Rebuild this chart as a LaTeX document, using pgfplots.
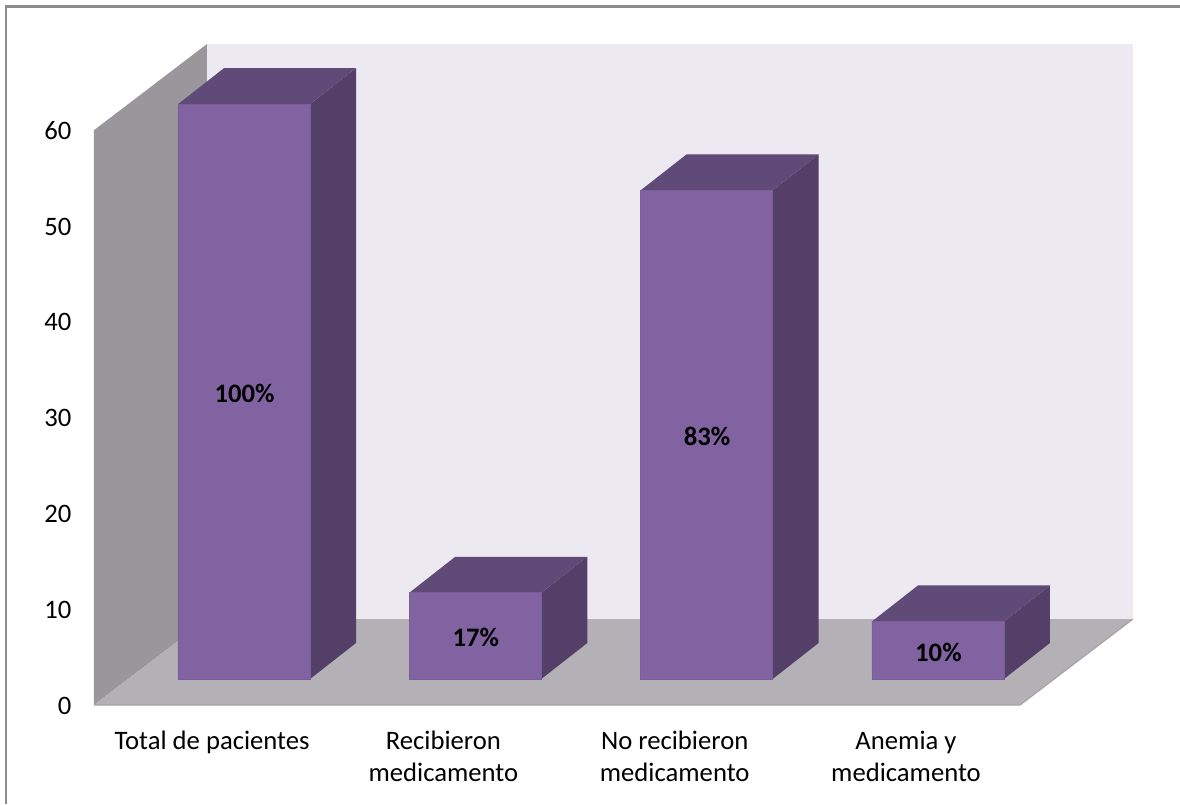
\documentclass[border=0pt]{standalone}
\usepackage{pgfplots}
\pgfplotsset{compat=1.18}
\usepackage{fontspec}
\setmainfont{Carlito}
\definecolor{backwall}{HTML}{ECEAF0}
\definecolor{sidewall}{HTML}{99979B}
\definecolor{floorc}{HTML}{B3B1B6}
\definecolor{floorl}{HTML}{A5A3A8}
\definecolor{front}{HTML}{8163A2}
\definecolor{frontl}{HTML}{7A5D9B}
\definecolor{topc}{HTML}{5F4A78}
\definecolor{sidec}{HTML}{533F68}
\definecolor{framec}{HTML}{8C8C8C}
\begin{document}
\begin{tikzpicture}
\path[use as bounding box] (-70.5pt,-74.25pt) rectangle (814.5pt,528.75pt);
\draw[framec,line width=1.6pt] (-66pt,-74.25pt) -- (-66pt,523.9pt) -- (814.5pt,523.9pt);
\begin{axis}[
  at={(0pt,0pt)},anchor=south west,
  scale only axis,width=779.25pt,height=495.75pt,
  xmin=-0.6485,xmax=3.8435,ymin=-2.714,ymax=66.28,
  axis line style={draw=none},major tick length=0pt,
  xtick={-0.138,0.862,1.862,2.862},
  xticklabels={\strut Total de pacientes,\strut Recibieron\\\strut medicamento,\strut No recibieron\\\strut medicamento,\strut Anemia y\\\strut medicamento},
  xticklabel style={align=center,anchor=north,yshift=-12.5pt,font=\fontsize{20}{24.5}\selectfont},
  ytick={-2.714,7.286,17.286,27.286,37.286,47.286,57.286},
  yticklabels={0,10,20,30,40,50,60},
  yticklabel style={anchor=east,xshift=-13.5pt,yshift=-0.4pt,font=\fontsize{20}{24}\selectfont},
  clip=false,
]
% walls and floor
\addplot[fill=backwall,draw=none] coordinates {(-0.16,6.263) (3.8435,6.263) (3.8435,66.28) (-0.16,66.28)} -- cycle;
\addplot[fill=sidewall,draw=none] coordinates {(-0.6485,-2.714) (-0.16,6.263) (-0.16,66.28) (-0.6485,57.286)} -- cycle;
\addplot[fill=floorc,draw=none] coordinates {(-0.6485,-2.714) (-0.16,6.263) (3.8435,6.263) (3.355,-2.714)} -- cycle;
\addplot[draw=floorl,line width=0.9pt] coordinates {(-0.6485,-2.714) (3.355,-2.714) (3.8435,6.263)};
% side faces
\addplot[fill=sidec,draw=none] coordinates {(0.2854,0) (0.4843,3.76) (0.4843,63.76) (0.2854,60)} -- cycle;
\addplot[fill=sidec,draw=none] coordinates {(1.2854,0) (1.4843,3.76) (1.4843,12.76) (1.2854,9)} -- cycle;
\addplot[fill=sidec,draw=none] coordinates {(2.2854,0) (2.4843,3.76) (2.4843,54.76) (2.2854,51)} -- cycle;
\addplot[fill=sidec,draw=none] coordinates {(3.2854,0) (3.4843,3.76) (3.4843,9.76) (3.2854,6)} -- cycle;
% top faces
\addplot[fill=topc,draw=none] coordinates {(-0.2854,60) (-0.0865,63.76) (0.4843,63.76) (0.2854,60)} -- cycle;
\addplot[fill=topc,draw=none] coordinates {(0.7146,9) (0.9135,12.76) (1.4843,12.76) (1.2854,9)} -- cycle;
\addplot[fill=topc,draw=none] coordinates {(1.7146,51) (1.9135,54.76) (2.4843,54.76) (2.2854,51)} -- cycle;
\addplot[fill=topc,draw=none] coordinates {(2.7146,6) (2.9135,9.76) (3.4843,9.76) (3.2854,6)} -- cycle;
% front faces
\addplot[ybar,bar width=0.5708,fill=front,draw=frontl,line width=0.5pt] coordinates {(0,60) (1,9) (2,51) (3,6)};
% percentage labels
\addplot[draw=none,mark=none,point meta=explicit symbolic,nodes near coords,
  nodes near coords align={center},
  every node near coord/.append style={font=\fontsize{20}{24}\bfseries\selectfont,text=black,yshift=-1.5pt,xshift=0.4pt}]
  coordinates {(0,30) [100\%] (1,4.5) [17\%] (2,25.5) [83\%] (3,3) [10\%]};
\end{axis}
\end{tikzpicture}
\end{document}
